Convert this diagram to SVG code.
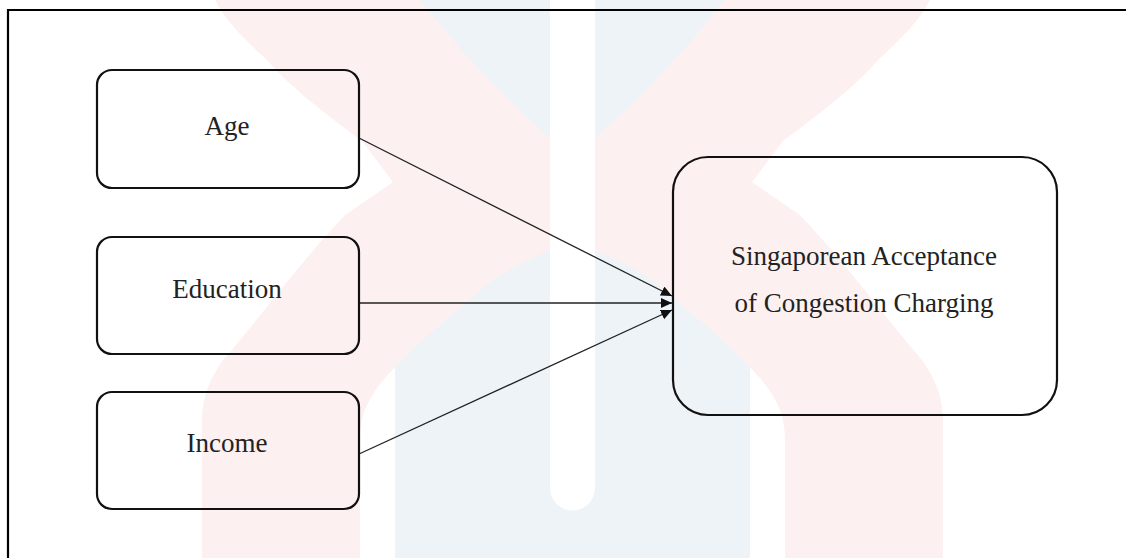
<svg xmlns="http://www.w3.org/2000/svg" width="1126" height="558" viewBox="0 0 1126 558">
  <style>
    .node { fill: none; stroke: #111; stroke-width: 2.2; }
    .lbl { font-size: 27px; fill: #222; text-anchor: middle; }
    .edge { stroke: #222; stroke-width: 1.3; fill: none; marker-end: url(#arrow); }
    .frame { stroke: #000; stroke-width: 2.2; fill: none; }
  </style>
  <defs>
    <marker id="arrow" markerUnits="userSpaceOnUse" markerWidth="12" markerHeight="11" refX="11" refY="5" orient="auto">
      <path d="M0,0 L11,5 L0,10 Z" fill="#111"/>
    </marker>
    <path id="pinkL" d="M215,0 L420,0 C455,45 500,95 552,140 L552,250 C530,258 510,268 493,280 C450,315 410,350 385,378 C368,398 360,415 360,440 L360,558 L202,558 L202,420 C202,398 210,378 223,360 C260,318 300,262 345,215 L393,182 L362,141 C320,110 285,82 267,60 C245,40 225,20 215,0 Z"/>
  </defs>
  <rect width="1126" height="558" fill="#fff"/>
  <g id="watermark">
    <rect x="395" y="0" width="355" height="558" fill="#eef3f8"/>
    <use href="#pinkL" fill="#fdf0f0"/>
    <use href="#pinkL" fill="#fdf0f0" transform="translate(1145,0) scale(-1,1)"/>
    <path d="M550,0 L595,0 L595,488 A22.5,22.5 0 0 1 550,488 Z" fill="#fff"/>
  </g>
  <path class="frame" d="M8,558 L8,10 L1126,10"/>
  <g id="connectors">
    <line class="edge" x1="359" y1="138" x2="672" y2="296"/>
    <line class="edge" x1="359" y1="303" x2="672" y2="303"/>
    <line class="edge" x1="359" y1="454" x2="672" y2="310"/>
  </g>
  <g id="age">
    <rect class="node" x="97" y="70" width="262" height="118" rx="15"/>
    <text class="lbl" font-family="Liberation Serif, DejaVu Serif, serif" x="227" y="135">Age</text>
  </g>
  <g id="education">
    <rect class="node" x="97" y="237" width="262" height="117" rx="15"/>
    <text class="lbl" font-family="Liberation Serif, DejaVu Serif, serif" x="227" y="298">Education</text>
  </g>
  <g id="income">
    <rect class="node" x="97" y="392" width="262" height="117" rx="15"/>
    <text class="lbl" font-family="Liberation Serif, DejaVu Serif, serif" x="227" y="452">Income</text>
  </g>
  <g id="acceptance">
    <rect class="node" x="673" y="157" width="384" height="258" rx="35"/>
    <text class="lbl" font-family="Liberation Serif, DejaVu Serif, serif" x="864" y="265">Singaporean Acceptance</text>
    <text class="lbl" font-family="Liberation Serif, DejaVu Serif, serif" x="864" y="312">of Congestion Charging</text>
  </g>
</svg>
